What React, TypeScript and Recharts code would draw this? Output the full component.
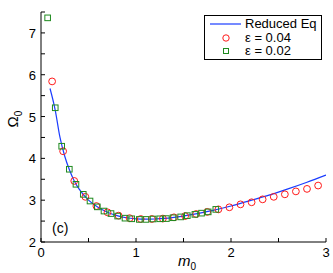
import React from 'react';
import { ComposedChart, Line, Scatter, XAxis, YAxis, Legend } from 'recharts';

// reduced equation curve
const lineX = [0.095, 0.15, 0.2, 0.25, 0.3, 0.35, 0.4, 0.5, 0.6, 0.7, 0.8, 0.9, 1.0, 1.1, 1.2, 1.3, 1.4, 1.5, 1.6, 1.8, 2.0, 2.2, 2.4, 2.6, 2.8, 3.0];
const lineY = [5.67, 5.15, 4.5, 4.05, 3.72, 3.46, 3.27, 3.0, 2.83, 2.71, 2.63, 2.58, 2.555, 2.545, 2.55, 2.565, 2.59, 2.62, 2.66, 2.75, 2.86, 2.99, 3.12, 3.27, 3.43, 3.6];

// eps = 0.04 (red circles)
const eps04X = [0.117, 0.233, 0.35, 0.467, 0.583, 0.7, 0.817, 0.933, 1.05, 1.167, 1.283, 1.4, 1.517, 1.633, 1.75, 1.867, 1.983, 2.1, 2.217, 2.333, 2.45, 2.567, 2.683, 2.8, 2.917];
const eps04Y = [5.84, 4.17, 3.46, 3.08, 2.86, 2.71, 2.63, 2.57, 2.55, 2.55, 2.56, 2.59, 2.62, 2.67, 2.72, 2.78, 2.83, 2.9, 2.95, 3.02, 3.08, 3.14, 3.21, 3.27, 3.35];

// eps = 0.02 (green squares)
const eps02X = [0.07, 0.15, 0.218, 0.298, 0.368, 0.445, 0.516, 0.593, 0.663, 0.737, 0.807, 0.884, 0.955, 1.035, 1.105, 1.18, 1.25, 1.32, 1.39, 1.47, 1.54, 1.62, 1.69, 1.76, 1.84];
const eps02Y = [7.36, 5.21, 4.29, 3.74, 3.38, 3.14, 2.98, 2.84, 2.74, 2.68, 2.62, 2.57, 2.555, 2.54, 2.54, 2.55, 2.555, 2.56, 2.58, 2.6, 2.63, 2.66, 2.69, 2.72, 2.78];

const xTicks = [0, 0.5, 1, 1.5, 2, 2.5, 3];
const yTicks = [2, 2.5, 3, 3.5, 4, 4.5, 5, 5.5, 6, 6.5, 7, 7.5];

const FONT = '"Liberation Sans", Arial, Helvetica, sans-serif';
const BLUE = '#1a3cff';
const RED = '#ff1a1a';
const GREEN = '#1e8a1e';

const lineData = lineX.map((x, i) => ({ x, y: lineY[i] }));
const data04 = eps04X.map((x, i) => ({ x, y: eps04Y[i] }));
const data02 = eps02X.map((x, i) => ({ x, y: eps02Y[i] }));

const isInt = (v: number) => Math.abs(v - Math.round(v)) < 1e-9;

const BottomTick = ({ x, y, payload }: any) => (
  <g>
    <line x1={x} y1={y} x2={x} y2={y - 4} stroke="#000" />
    {isInt(payload.value) && (
      <text x={x} y={y + 15} textAnchor="middle" fontSize={13} fontFamily={FONT} fill="#000">
        {payload.value}
      </text>
    )}
  </g>
);

const TopTick = ({ x, y }: any) => <line x1={x} y1={y} x2={x} y2={y + 4} stroke="#000" />;

const LeftTick = ({ x, y, payload }: any) => (
  <g>
    <line x1={x} y1={y} x2={x + 4} y2={y} stroke="#000" />
    {isInt(payload.value) && (
      <text x={x - 5} y={y + 5} textAnchor="end" fontSize={13} fontFamily={FONT} fill="#000">
        {payload.value}
      </text>
    )}
  </g>
);

const RightTick = ({ x, y }: any) => <line x1={x} y1={y} x2={x - 4} y2={y} stroke="#000" />;

const circleShape = (p: any) => <circle cx={p.cx} cy={p.cy} r={3.4} fill="none" stroke={RED} strokeWidth={1} />;
const squareShape = (p: any) => <rect x={p.cx - 2.8} y={p.cy - 2.8} width={5.6} height={5.6} fill="none" stroke={GREEN} strokeWidth={1} />;

const LegendBox = () => (
  <div
    style={{
      border: '1px solid #000',
      background: '#fff',
      width: 116,
      height: 42,
      fontFamily: FONT,
      fontSize: 13,
      lineHeight: '13.5px',
      color: '#000',
      boxSizing: 'content-box',
      paddingTop: 1,
    }}
  >
    <div style={{ display: 'flex', alignItems: 'center' }}>
      <svg width={40} height={13}>
        <line x1={5} y1={7} x2={36} y2={7} stroke={BLUE} strokeWidth={1.2} />
      </svg>
      <span>Reduced Eq</span>
    </div>
    <div style={{ display: 'flex', alignItems: 'center' }}>
      <svg width={40} height={13}>
        <circle cx={21} cy={7} r={3.2} fill="none" stroke={RED} />
      </svg>
      <span>ε = 0.04</span>
    </div>
    <div style={{ display: 'flex', alignItems: 'center' }}>
      <svg width={40} height={13}>
        <rect x={18.5} y={4.5} width={5} height={5} fill="none" stroke={GREEN} />
      </svg>
      <span>ε = 0.02</span>
    </div>
  </div>
);

const XLabel = () => (
  <g fontFamily={FONT} fill="#000">
    <text x={178} y={266} fontSize={15} fontStyle="italic">
      m<tspan fontSize={10} dy={4} fontStyle="normal">0</tspan>
    </text>
    <text x={52} y={233} fontSize={14}>(c)</text>
  </g>
);

const YLabel = () => (
  <text transform="translate(18,119) rotate(-90)" textAnchor="middle" fontFamily={FONT} fontSize={15} fill="#000">
    Ω<tspan fontSize={10} dy={4}>0</tspan>
  </text>
);

export default function App() {
  return (
    <div style={{ position: 'absolute', left: 0, top: 0, background: '#fff' }}>
      <ComposedChart width={333} height={273} margin={{ top: 12, right: 7, bottom: 0, left: 0 }}>
        <XAxis
          xAxisId="b"
          dataKey="x"
          type="number"
          domain={[0, 3]}
          ticks={xTicks}
          interval={0}
          tickSize={0}
          tickMargin={0}
          tickLine={false}
          tick={BottomTick}
          height={31}
          stroke="#000"
          allowDataOverflow
          label={<XLabel />}
        />
        <XAxis
          xAxisId="t"
          orientation="top"
          dataKey="x"
          type="number"
          domain={[0, 3]}
          ticks={xTicks}
          interval={0}
          tickSize={0}
          tickMargin={0}
          tickLine={false}
          tick={TopTick}
          height={0}
          stroke="#000"
        />
        <YAxis
          yAxisId="l"
          dataKey="y"
          type="number"
          domain={[2, 7.5]}
          ticks={yTicks}
          interval={0}
          tickSize={0}
          tickMargin={0}
          tickLine={false}
          tick={LeftTick}
          width={41}
          stroke="#000"
          allowDataOverflow
          label={<YLabel />}
        />
        <YAxis
          yAxisId="r"
          orientation="right"
          dataKey="y"
          type="number"
          domain={[2, 7.5]}
          ticks={yTicks}
          interval={0}
          tickSize={0}
          tickMargin={0}
          tickLine={false}
          tick={RightTick}
          width={0}
          stroke="#000"
        />
        <Line
          xAxisId="b"
          yAxisId="l"
          data={lineData}
          dataKey="y"
          type="monotone"
          stroke={BLUE}
          strokeWidth={1.2}
          dot={false}
          isAnimationActive={false}
          name="Reduced Eq"
        />
        <Scatter xAxisId="b" yAxisId="l" data={data04} dataKey="y" shape={circleShape} isAnimationActive={false} name="ε = 0.04" />
        <Scatter xAxisId="b" yAxisId="l" data={data02} dataKey="y" shape={squareShape} isAnimationActive={false} name="ε = 0.02" />
        <Legend
          layout="horizontal"
          verticalAlign="middle"
          align="center"
          content={<LegendBox />}
          wrapperStyle={{ position: 'absolute', left: 204, top: 15, width: 118, height: 44 }}
        />
      </ComposedChart>
    </div>
  );
}
